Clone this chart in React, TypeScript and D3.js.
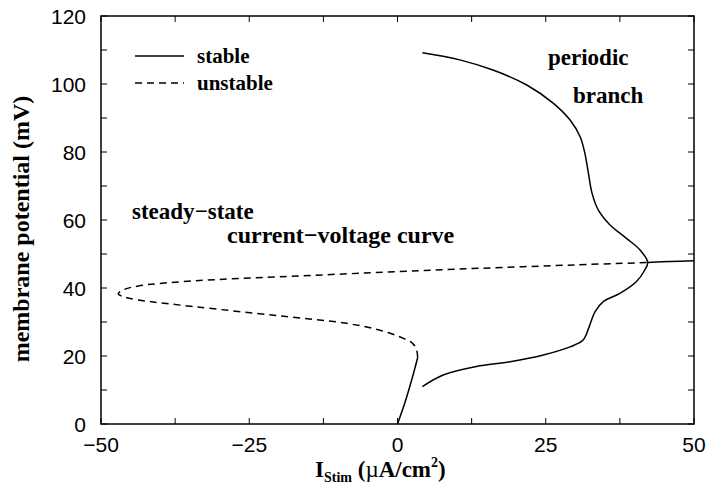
import React from 'react';
import * as d3 from 'd3';

// stimulus current (uA/cm^2), membrane potential (mV)
const restCurrent = [0, 1.2, 2.4, 3.4];
const restVoltage = [0, 6, 13, 19.5];

const unstableCurrent = [3.4, 3.2, 2.5, 1.0, -3.0, -8.6, -19.8, -34.2, -43.7, -46.5, -47.1, -46.3, -43.7, -34.2, -19.8, 0, 13.9, 30, 42.2];
const unstableVoltage = [19.5, 22.0, 23.8, 25.2, 27.6, 29.6, 31.8, 34.5, 36.5, 37.6, 38.3, 39.4, 40.6, 42.1, 43.3, 44.8, 45.8, 46.8, 47.5];

const periodicCurrent = [4.2, 7.7, 13.3, 19.0, 24.6, 29.1, 31.3, 32.3, 33.3, 34.7, 37.5, 40.3, 41.6, 42.2, 40.9, 38.6, 35.8, 33.9, 32.8, 32.2, 31.6, 30.8, 29.1, 26.3, 21.8, 16.1, 10.5, 4.2];
const periodicVoltage = [11.0, 14.4, 16.9, 18.3, 20.3, 22.7, 24.7, 28.5, 33.0, 36.0, 38.4, 41.9, 45.0, 47.5, 51.2, 54.6, 58.6, 62.8, 67.9, 73.7, 79.6, 84.5, 89.4, 94.3, 99.7, 104.1, 107.1, 109.2];

const upperCurrent = [42.2, 46, 50];
const upperVoltage = [47.5, 47.8, 48.0];

const xTicks = [-50, -25, 0, 25, 50];
const xMinor = [-37.5, -12.5, 12.5, 37.5];
const yTicks = [0, 20, 40, 60, 80, 100, 120];
const yMinor = [10, 30, 50, 70, 90, 110];

const W = 709;
const H = 491;
const m = { left: 101, right: 694, top: 16, bottom: 424 };

const serif = '"Liberation Serif", "Times New Roman", serif';
const sans = '"Liberation Sans", Arial, sans-serif';

const App: React.FC = () => {
  const x = d3.scaleLinear().domain([-50, 50]).range([m.left, m.right]);
  const y = d3.scaleLinear().domain([0, 120]).range([m.bottom, m.top]);

  const zip = (xs: number[], ys: number[]) => xs.map((v, i) => [v, ys[i]] as [number, number]);
  const line = d3.line<[number, number]>()
    .x((d) => x(d[0]))
    .y((d) => y(d[1]))
    .curve(d3.curveCatmullRom.alpha(0.5));

  const tickLen = 6;

  return (
    <svg width={W} height={H} style={{ position: 'absolute', left: 0, top: 0 }}>
      <rect width={W} height={H} fill="#fff" />

      {/* frame */}
      <rect x={m.left} y={m.top} width={m.right - m.left} height={m.bottom - m.top}
        fill="none" stroke="#000" strokeWidth={1.5} />

      {/* ticks */}
      {[...xTicks, ...xMinor].map((t) => (
        <g key={'x' + t}>
          <line x1={x(t)} x2={x(t)} y1={m.bottom} y2={m.bottom - tickLen} stroke="#000" strokeWidth={1} />
          <line x1={x(t)} x2={x(t)} y1={m.top} y2={m.top + tickLen} stroke="#000" strokeWidth={1} />
        </g>
      ))}
      {[...yTicks, ...yMinor].map((t) => (
        <g key={'y' + t}>
          <line x1={m.left} x2={m.left + tickLen} y1={y(t)} y2={y(t)} stroke="#000" strokeWidth={1} />
          <line x1={m.right} x2={m.right - tickLen} y1={y(t)} y2={y(t)} stroke="#000" strokeWidth={1} />
        </g>
      ))}

      {/* tick labels */}
      {xTicks.map((t) => (
        <text key={'xl' + t} x={x(t)} y={452} textAnchor="middle" fontFamily={sans} fontSize={21}>
          {t < 0 ? '\u2212' + Math.abs(t) : t}
        </text>
      ))}
      {yTicks.map((t) => (
        <text key={'yl' + t} x={86} y={y(t)} textAnchor="end" dominantBaseline="central" fontFamily={sans} fontSize={21}>
          {t}
        </text>
      ))}

      {/* axis titles */}
      <text x={315} y={477} fontFamily={serif} fontWeight="bold" fontSize={23}>
        I<tspan fontSize={14} dy={5}>Stim</tspan><tspan dy={-5}> (</tspan>
        <tspan fontWeight="normal">{'\u00B5'}</tspan><tspan>A/cm</tspan><tspan fontSize={14} dy={-10}>2</tspan><tspan dy={10}>)</tspan>
      </text>
      <text transform="translate(29, 229) rotate(-90)" textAnchor="middle"
        fontFamily={serif} fontWeight="bold" fontSize={24}>
        membrane potential (mV)
      </text>

      {/* curves */}
      <path d={line(zip(restCurrent, restVoltage)) || ''} fill="none" stroke="#000" strokeWidth={1.5} />
      <path d={line(zip(unstableCurrent, unstableVoltage)) || ''} fill="none" stroke="#000" strokeWidth={1.5}
        strokeDasharray="7,5" />
      <path d={line(zip(periodicCurrent, periodicVoltage)) || ''} fill="none" stroke="#000" strokeWidth={1.5} />
      <path d={line(zip(upperCurrent, upperVoltage)) || ''} fill="none" stroke="#000" strokeWidth={1.5} />

      {/* legend */}
      <line x1={135} x2={184} y1={56} y2={56} stroke="#000" strokeWidth={1.5} />
      <text x={197} y={63} fontFamily={serif} fontWeight="bold" fontSize={21}>stable</text>
      <line x1={135} x2={184} y1={83} y2={83} stroke="#000" strokeWidth={1.5} strokeDasharray="7,5" />
      <text x={197} y={90} fontFamily={serif} fontWeight="bold" fontSize={21}>unstable</text>

      {/* annotations */}
      <text x={548} y={65} fontFamily={serif} fontWeight="bold" fontSize={23}>periodic</text>
      <text x={573} y={103} fontFamily={serif} fontWeight="bold" fontSize={23}>branch</text>
      <text x={132} y={219} fontFamily={serif} fontWeight="bold" fontSize={23}>steady{'\u2212'}state</text>
      <text x={227} y={243} fontFamily={serif} fontWeight="bold" fontSize={24}>current{'\u2212'}voltage curve</text>
    </svg>
  );
};

export default App;
